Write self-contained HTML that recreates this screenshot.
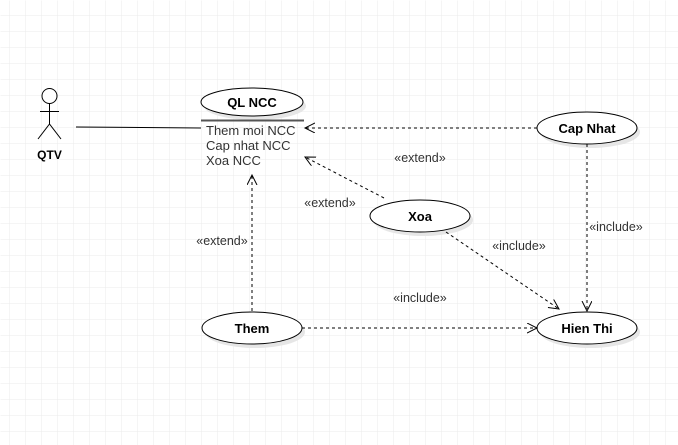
<!DOCTYPE html>
<html><head><style>
html,body{margin:0;padding:0;background:#fff;}
svg{display:block;}
text{font-family:"Liberation Sans",Arial,sans-serif;}
</style></head><body>
<svg width="678" height="445" viewBox="0 0 678 445" xmlns="http://www.w3.org/2000/svg">
<defs>
<pattern id="g" x="9" y="15" width="16" height="16" patternUnits="userSpaceOnUse">
<path d="M0 0H16M0 0V16" stroke="#ebebeb" stroke-width="1" fill="none"/>
</pattern>
<marker id="a" markerWidth="12" markerHeight="12" refX="10" refY="5" orient="auto" markerUnits="userSpaceOnUse">
<path d="M0 0L10 5L0 10" fill="none" stroke="#000" stroke-width="1"/>
</marker>
</defs>
<rect x="0" y="0" width="678" height="445" fill="url(#g)" transform="translate(0.5,0.5)"/>
<g stroke="#000" stroke-width="1" fill="#fff">
<circle cx="49.5" cy="96" r="7.5"/>
<line x1="49.5" y1="103.5" x2="49.5" y2="124"/>
<line x1="40" y1="111.5" x2="59" y2="111.5"/>
<line x1="49.5" y1="124" x2="38" y2="139"/>
<line x1="49.5" y1="124" x2="61" y2="139"/>
</g>
<text x="49.5" y="159" text-anchor="middle" font-size="12" font-weight="bold">QTV</text>
<line x1="76" y1="127" x2="201" y2="128" stroke="#000"/>
<g fill="#e6e6e6">
<ellipse cx="255" cy="106" rx="51" ry="14"/>
<ellipse cx="590" cy="132" rx="50" ry="16"/>
<ellipse cx="423" cy="220" rx="50" ry="16"/>
<ellipse cx="255" cy="332" rx="50" ry="16"/>
<ellipse cx="590" cy="332" rx="50" ry="16"/>
</g>
<g fill="#fff" stroke="#000">
<ellipse cx="252" cy="102" rx="51" ry="14"/>
<ellipse cx="587" cy="128" rx="50" ry="16"/>
<ellipse cx="420" cy="216" rx="50" ry="16"/>
<ellipse cx="252" cy="328" rx="50" ry="16"/>
<ellipse cx="587" cy="328" rx="50" ry="16"/>
</g>
<line x1="201" y1="120.5" x2="304" y2="120.5" stroke="#555" stroke-width="2"/>
<g font-size="13" font-weight="bold" text-anchor="middle" fill="#000">
<text x="252" y="107">QL NCC</text>
<text x="587" y="133">Cap Nhat</text>
<text x="420" y="221">Xoa</text>
<text x="252" y="333">Them</text>
<text x="587" y="333">Hien Thi</text>
</g>
<g font-size="13" fill="#333">
<text x="206" y="135">Them moi NCC</text>
<text x="206" y="150">Cap nhat NCC</text>
<text x="206" y="165">Xoa NCC</text>
</g>
<g stroke="#000" stroke-dasharray="3,3" fill="none" marker-end="url(#a)">
<line x1="537" y1="128" x2="305" y2="128"/>
<line x1="384" y1="198" x2="305" y2="157"/>
<line x1="252" y1="311" x2="252" y2="175"/>
<line x1="302" y1="328" x2="537" y2="328"/>
<line x1="446" y1="232" x2="559" y2="309"/>
<line x1="587" y1="144" x2="587" y2="311"/>
</g>
<g font-size="12.5" fill="#333" text-anchor="middle">
<text x="420" y="162">«extend»</text>
<text x="330" y="207">«extend»</text>
<text x="222" y="245">«extend»</text>
<text x="420" y="302">«include»</text>
<text x="519" y="250">«include»</text>
<text x="616" y="231">«include»</text>
</g>
</svg>
</body></html>
